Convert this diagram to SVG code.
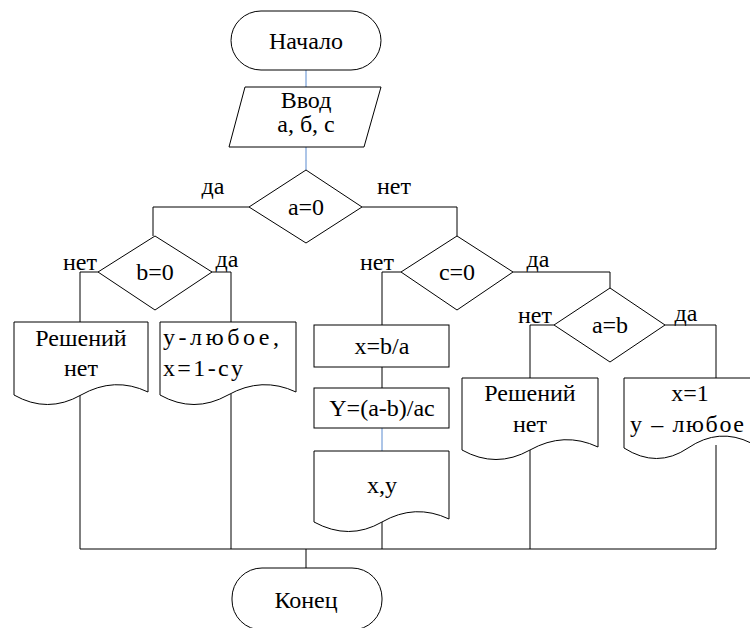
<svg xmlns="http://www.w3.org/2000/svg" width="750" height="628" viewBox="0 0 750 628" font-family="'Liberation Serif', 'Times New Roman', 'DejaVu Serif', serif" font-size="24">
<style>
.s{fill:#fff;stroke:#000;stroke-width:1}
.c{fill:none;stroke:#000;stroke-width:1}
.b{fill:none;stroke:#5b8bd0;stroke-width:1}
.m{text-anchor:middle}
</style>
<rect width="750" height="628" fill="#fff"/>
<g id="connectors">
<line class="b" x1="306" y1="70" x2="306" y2="87"/>
<line class="b" x1="306" y1="147" x2="306" y2="170"/>
<polyline class="c" points="249,207 153,207 153,236"/>
<polyline class="c" points="362,207 457,207 457,236"/>
<polyline class="c" points="98,272 80,272 80,322"/>
<polyline class="c" points="212,272 231,272 231,322"/>
<polyline class="c" points="401,272 382,272 382,325"/>
<polyline class="c" points="513,272 610,272 610,288"/>
<polyline class="c" points="554,325 530,325 530,378"/>
<polyline class="c" points="665,325 716,325 716,378"/>
<line class="c" x1="382" y1="367" x2="382" y2="388"/>
<line class="b" x1="382" y1="428" x2="382" y2="451"/>
<line class="c" x1="80" y1="395" x2="80" y2="549"/>
<line class="c" x1="231" y1="394" x2="231" y2="549"/>
<line class="c" x1="382" y1="521" x2="382" y2="549"/>
<line class="c" x1="530" y1="450" x2="530" y2="549"/>
<line class="c" x1="716" y1="445" x2="716" y2="549"/>
<line class="c" x1="80" y1="549" x2="716" y2="549" stroke-width="1.5"/>
<line class="c" x1="306" y1="549" x2="306" y2="568"/>
<text x="213" y="194" class="m">да</text>
<text x="394" y="194" class="m">нет</text>
<text x="80" y="270" class="m">нет</text>
<text x="227" y="267" class="m">да</text>
<text x="377" y="270" class="m">нет</text>
<text x="538" y="267" class="m">да</text>
<text x="535" y="323" class="m">нет</text>
<text x="686" y="321" class="m">да</text>
</g>
<g id="start">
<rect class="s" x="231" y="11" width="150" height="59" rx="30"/>
<text x="306" y="49" class="m">Начало</text>
</g>
<g id="input">
<polygon class="s" points="245,87 381,87 364,147 229,147"/>
<text x="306" y="108" class="m">Ввод</text>
<text x="306" y="132" class="m">а, б, с</text>
</g>
<g id="d_a0">
<polygon class="s" points="306,170 362,207 306,243 249,207"/>
<text x="306" y="215" class="m">a=0</text>
</g>
<g id="d_b0">
<polygon class="s" points="155,236 212,272 155,310 98,272"/>
<text x="155" y="280" class="m">b=0</text>
</g>
<g id="d_c0">
<polygon class="s" points="457,236 513,272 457,310 401,272"/>
<text x="457" y="280" class="m">c=0</text>
</g>
<g id="d_ab">
<polygon class="s" points="610,288 665,325 610,362 554,325"/>
<text x="610" y="333" class="m">a=b</text>
</g>
<g id="doc1">
<path class="s" d="M14,322 H148 V392 Q114.5,376 81,395 T14,395 Z"/>
<text x="81" y="346" class="m">Решений</text>
<text x="81" y="376" class="m">нет</text>
</g>
<g id="doc2">
<path class="s" d="M160,322 H296 V392 Q262,376 228,395 T160,395 Z"/>
<text x="163" y="345" textLength="116" lengthAdjust="spacing">у-любое,</text>
<text x="163" y="376" textLength="80" lengthAdjust="spacing">x=1-cy</text>
</g>
<g id="r1">
<rect class="s" x="314" y="325" width="135" height="42"/>
<text x="382" y="354" class="m">x=b/a</text>
</g>
<g id="r2">
<rect class="s" x="314" y="388" width="135" height="40"/>
<text x="382" y="416" class="m">Y=(a-b)/ac</text>
</g>
<g id="doc3">
<path class="s" d="M314,451 H449 V519 Q415,503 382,522 T314,522 Z"/>
<text x="382" y="493" class="m">x,y</text>
</g>
<g id="doc4">
<path class="s" d="M462,378 H598 V447 Q564,431 530,450 T462,450 Z"/>
<text x="530" y="401" class="m">Решений</text>
<text x="530" y="432" class="m">нет</text>
</g>
<g id="doc5">
<path class="s" d="M624,378 H751 V443 Q719,427 688,448 T624,448 Z"/>
<text x="690" y="401" class="m">x=1</text>
<text x="687" y="432" class="m" textLength="114" lengthAdjust="spacing">у – любое</text>
</g>
<g id="end">
<rect class="s" x="232" y="568" width="150" height="62" rx="30"/>
<text x="306" y="608" class="m">Конец</text>
</g>
</svg>
